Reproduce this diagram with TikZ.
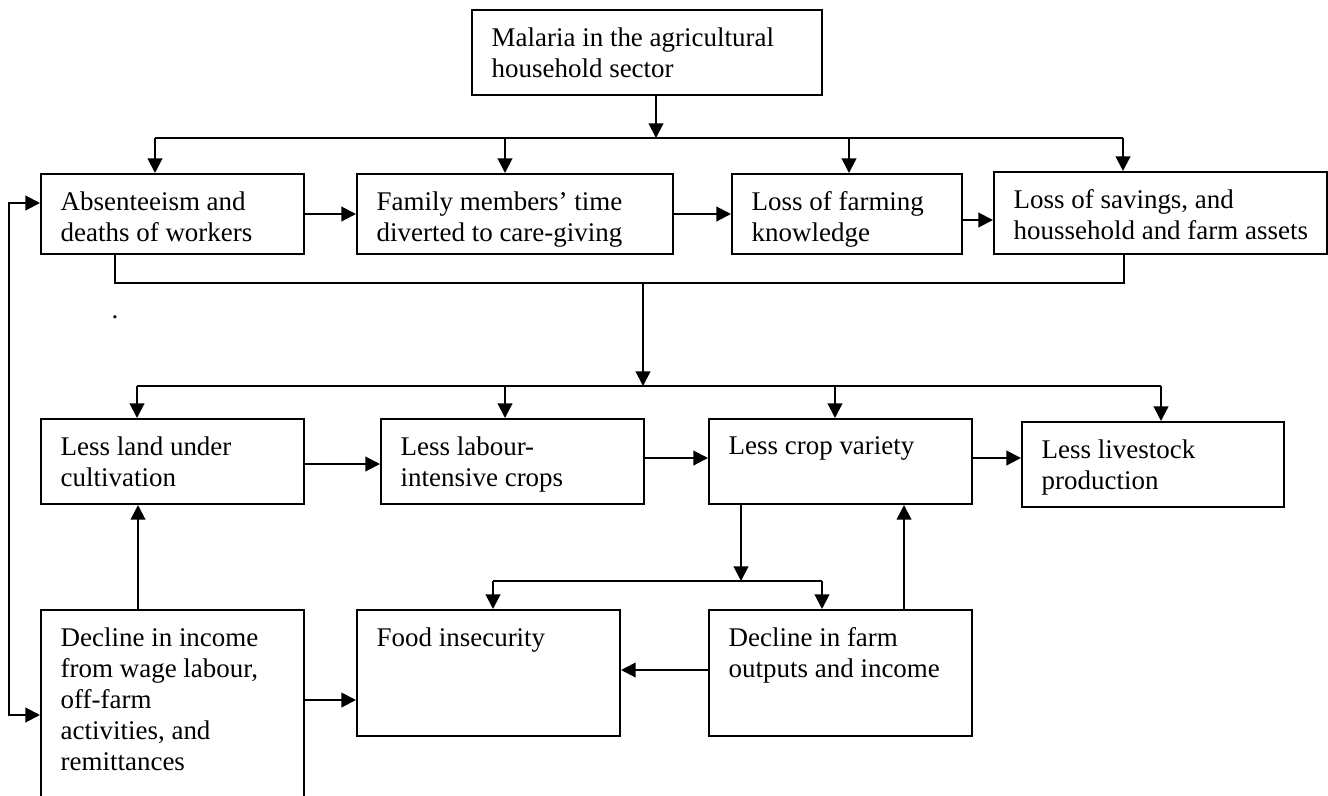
\documentclass[tikz,border=0pt]{standalone}
\usepackage{fontspec}
\setmainfont{Liberation Serif}
\usetikzlibrary{arrows.meta}
\newcommand{\pu}{0.445pt}

\begin{document}
\begin{tikzpicture}[x=\pu, y=-\pu,
        blk/.style={draw, line width=0.9pt, anchor=north west, inner sep=0pt},
        txt/.style={anchor=north west, align=left, inner xsep=9pt, inner ysep=8pt, font=\fontsize{12}{13.8}\selectfont},
        bus/.style={line width=0.9pt},
        arr/.style={line width=0.9pt, -{Triangle[length=6.5pt,width=6.5pt]}},
        dbl/.style={line width=0.9pt, {Triangle[length=6.5pt,width=6.5pt]}-{Triangle[length=6.5pt,width=6.5pt]}}]
        
        \clip (0,0) rectangle (1328,796);
        
        \node[blk, minimum width=350*\pu, minimum height=85*\pu, label={[txt]north west:{Malaria in the agricultural\\household sector}}] (mal) at (471,9) {}; % Top box
        
        \node[blk, minimum width=263*\pu, minimum height=80*\pu, label={[txt]north west:{Absenteeism and\\deaths of workers}}] (abs) at (40,173) {}; % Row 1
        \node[blk, minimum width=316*\pu, minimum height=80*\pu, label={[txt]north west:{Family members’ time\\diverted to care-giving}}] (fam) at (356,173) {};
        \node[blk, minimum width=230*\pu, minimum height=80*\pu, label={[txt]north west:{Loss of farming\\knowledge}}] (know) at (731,173) {};
        \node[blk, minimum width=333*\pu, minimum height=82*\pu, label={[txt]north west:{Loss of savings, and\\houssehold and farm assets}}] (sav) at (993,171) {};
        
        \node[blk, minimum width=263*\pu, minimum height=85*\pu, label={[txt]north west:{Less land under\\cultivation}}] (land) at (40,418) {}; % Row 2
        \node[blk, minimum width=263*\pu, minimum height=85*\pu, label={[txt]north west:{Less labour-\\intensive crops}}] (lab) at (380,418) {};
        \node[blk, minimum width=263*\pu, minimum height=85*\pu, label={[txt]north west:{Less crop variety}}] (var) at (708,418) {};
        \node[blk, minimum width=262*\pu, minimum height=85*\pu, label={[txt]north west:{Less livestock\\production}}] (live) at (1021,421) {};
        
        \node[blk, minimum width=263*\pu, minimum height=300*\pu, label={[txt]north west:{Decline in income\\from wage labour,\\off-farm\\activities, and\\remittances}}] (inc) at (40,609) {}; % Row 3
        \node[blk, minimum width=263*\pu, minimum height=126*\pu, label={[txt]north west:{Food insecurity}}] (food) at (356,609) {};
        \node[blk, minimum width=263*\pu, minimum height=126*\pu, label={[txt]north west:{Decline in farm\\outputs and income}}] (farm) at (708,609) {};
        
        \node[font=\fontsize{12}{13.8}\selectfont] (dot) at (115,317) {.};
        
        \coordinate (b1) at (656,138); % Bus 1
        \coordinate (t1) at (155,138);
        \coordinate (t2) at (505,138);
        \coordinate (t3) at (849,138);
        \coordinate (t4) at (1123,138);
        \draw[arr] (mal.south -| b1) -- (b1);
        \draw[bus] (t1) -- (t4);
        \foreach \t/\b in {t1/abs, t2/fam, t3/know, t4/sav}
            \draw[arr] (\t) -- (\t |- \b.north);
        
        \draw[arr] (abs) -- (fam);
        \draw[arr] (fam) -- (know);
        \draw[arr] ([yshift=-6*\pu]know.east) -- ([yshift=-6*\pu]know.east -| sav.west);
        
        \coordinate (lp) at (9,715); % Loop on the left
        \draw[dbl] ([yshift=11*\pu]abs.west) -| (lp) -- (lp -| inc.west);
        
        \coordinate (j1) at (643,283); % Bus 2
        \coordinate (j2) at (643,386);
        \coordinate (s1) at (137,386);
        \coordinate (s2) at (505,386);
        \coordinate (s3) at (835,386);
        \coordinate (s4) at (1161,386);
        \draw[bus] (abs.south -| 115,0) |- (j1) -| (sav.south -| 1124,0);
        \draw[arr] (j1) -- (j2);
        \draw[bus] (s1) -- (s4);
        \foreach \t/\b in {s1/land, s2/lab, s3/var, s4/live}
            \draw[arr] (\t) -- (\t |- \b.north);
        
        \draw[arr] ([yshift=-2.5*\pu]land.east) -- ([yshift=-2.5*\pu]land.east -| lab.west);
        \draw[arr] ([yshift=3.5*\pu]lab.east) -- ([yshift=3.5*\pu]lab.east -| var.west);
        \draw[arr] ([yshift=3.5*\pu]var.east) -- ([yshift=3.5*\pu]var.east -| live.west);
        
        \draw[arr] ([xshift=-34.5*\pu]inc.north) -- ([xshift=-34.5*\pu]inc.north |- land.south);
        \draw[arr] ([yshift=60*\pu]inc.east) -- ([yshift=60*\pu]inc.east -| food.west);
        \draw[arr] ([yshift=3*\pu]farm.west) -- ([yshift=3*\pu]farm.west -| food.east);
        \draw[arr] ([xshift=63.5*\pu]farm.north) -- ([xshift=63.5*\pu]farm.north |- var.south);
        
        \coordinate (j3) at (741,581); % Bus 3
        \coordinate (u1) at (493,581);
        \coordinate (u2) at (822,581);
        \draw[arr] (var.south -| j3) -- (j3);
        \draw[bus] (u1) -- (u2);
        \draw[arr] (u1) -- (u1 |- food.north);
        \draw[arr] (u2) -- (u2 |- farm.north);
        
        \end{tikzpicture}
\end{document}
